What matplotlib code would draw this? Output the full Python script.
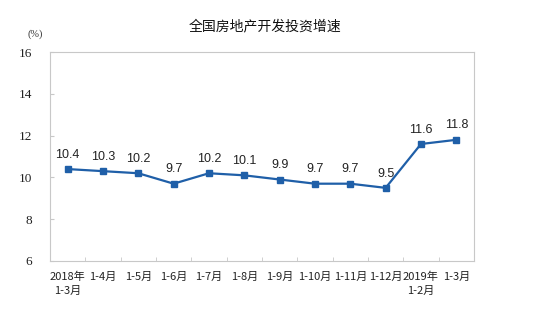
import matplotlib.pyplot as plt

plt.rcParams['font.family'] = ['Noto Sans CJK SC', 'DejaVu Sans']

# data
title = '全国房地产开发投资增速'
categories = ['2018年\n1-3月', '1-4月', '1-5月', '1-6月', '1-7月', '1-8月',
              '1-9月', '1-10月', '1-11月', '1-12月', '2019年\n1-2月', '1-3月']
values = [10.4, 10.3, 10.2, 9.7, 10.2, 10.1, 9.9, 9.7, 9.7, 9.5, 11.6, 11.8]
yticks = [6, 8, 10, 12, 14, 16]

line_color = '#1f5fa8'
grey = '#c8c8c8'

fig = plt.figure(figsize=(5.48, 3.17), dpi=100)
ax = fig.add_axes([0.0912, 0.1767, 0.7737, 0.659])

x = list(range(len(values)))
ax.plot(x, values, color=line_color, linewidth=1.6, marker='s', markersize=4.5,
        markerfacecolor=line_color, markeredgecolor=line_color)

for xi, v in zip(x, values):
    ax.annotate(f'{v:.1f}', (xi, v), xytext=(0, 6), textcoords='offset points',
                ha='center', va='bottom', fontsize=9, family='Liberation Sans',
                color='#222222')

ax.set_xlim(-0.5, len(values) - 0.5)
ax.set_ylim(6, 16)
ax.set_yticks(yticks)
ax.set_yticklabels([str(t) for t in yticks], family='Liberation Serif', fontsize=9.5)
ax.set_xticks(x)
ax.set_xticklabels(categories, fontsize=8, linespacing=1.4)
ax.set_xticks([i + 0.5 for i in x[:-1]], minor=True)

ax.tick_params(axis='x', which='major', length=0, pad=8, colors='#222222')
ax.tick_params(axis='x', which='minor', length=3, direction='in', color=grey)
ax.tick_params(axis='y', length=3, direction='in', pad=13, colors='#222222')
ax.tick_params(axis='y', color=grey)

for s in ax.spines.values():
    s.set_color(grey)
    s.set_linewidth(0.8)

fig.text(0.064, 0.885, '(%)', fontsize=7.5, ha='center', family='Liberation Serif',
         color='#333333')
fig.text(0.484, 0.905, title, fontsize=10, ha='center', color='#111111')

fig.savefig('out.png', dpi=100)
